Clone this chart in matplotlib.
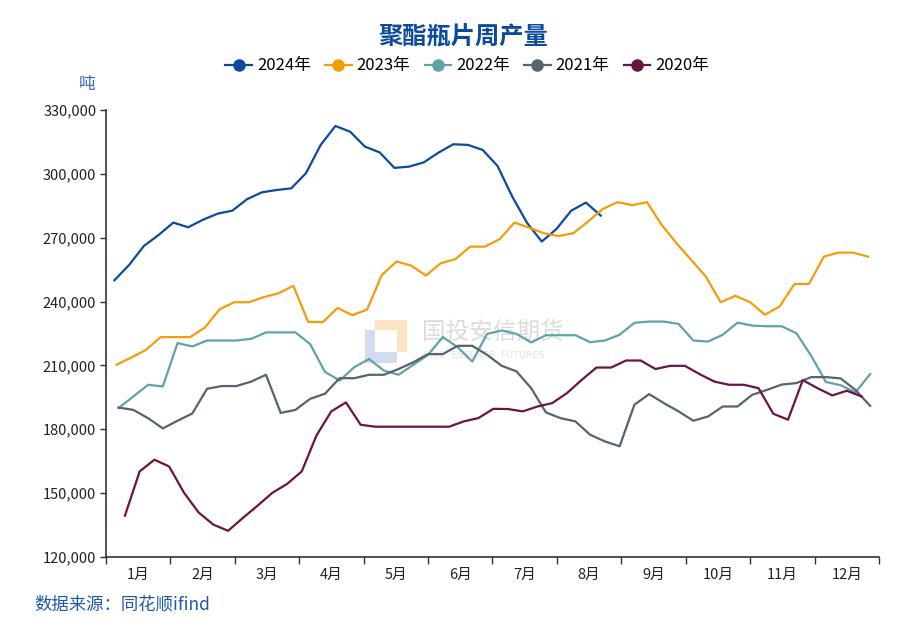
import numpy as np
import matplotlib
matplotlib.use("Agg")
import matplotlib.pyplot as plt
from matplotlib.patches import Rectangle
from matplotlib.lines import Line2D

plt.rcParams["font.family"] = ["Noto Sans CJK SC", "DejaVu Sans"]
plt.rcParams["axes.unicode_minus"] = False

# weekly output, thousand tonnes
y2024 = [250.0, 257.2, 266.1, 271.3, 277.1, 274.9, 278.4, 281.3, 282.7, 288.1, 291.3, 292.4, 293.2,
         300.3, 313.6, 322.5, 319.8, 312.8, 310.1, 302.8, 303.4, 305.4, 310.0, 313.9, 313.6, 311.2,
         303.7, 289.3, 277.0, 268.2, 274.1, 282.7, 286.5, 280.4]
y2023 = [210.3, 213.7, 217.3, 223.3, 223.3, 223.3, 227.8, 236.4, 239.7, 239.7, 242.1, 243.9, 247.4,
         230.5, 230.3, 237.0, 233.6, 236.2, 252.4, 258.8, 256.9, 252.2, 258.0, 259.9, 265.8, 265.8,
         269.3, 277.1, 274.7, 272.1, 270.8, 272.1, 277.6, 283.5, 286.7, 285.3, 286.7, 276.0,
         267.4, 259.6, 251.7, 239.7, 242.7, 239.7, 233.8, 237.7, 248.2, 248.3, 261.1, 263.0, 263.0, 261.1]
y2022 = [190.0, 195.4, 200.9, 200.1, 220.5, 218.9, 221.7, 221.7, 221.7, 222.5, 225.5, 225.5, 225.5,
         220.0, 207.0, 202.9, 209.2, 213.0, 207.6, 205.6, 210.3, 215.0, 223.3, 218.6, 211.8, 224.8,
         226.4, 224.8, 220.8, 224.2, 224.2, 224.2, 220.9, 221.7, 224.4, 230.0, 230.6, 230.6, 229.5,
         221.7, 221.2, 224.4, 230.1, 228.7, 228.4, 228.4, 225.1, 214.5, 202.2, 200.7, 197.3, 205.9]
y2021 = [190.2, 189.1, 185.2, 180.4, 184.0, 187.4, 199.0, 200.3, 200.3, 202.4, 205.6, 187.7, 189.1,
         194.3, 196.7, 204.0, 204.0, 205.6, 205.6, 208.3, 211.5, 215.3, 215.3, 219.2, 219.2, 215.0,
         209.8, 207.2, 199.3, 187.9, 185.2, 183.7, 177.4, 174.3, 172.0, 191.5, 196.5, 192.3, 188.4,
         184.0, 186.0, 190.7, 190.7, 196.2, 198.5, 201.0, 201.7, 204.5, 204.5, 203.9, 198.5, 191.0]
y2020 = [139.4, 160.2, 165.7, 162.5, 150.3, 140.9, 135.2, 132.3, 138.3, 144.1, 150.1, 154.3, 160.2,
         177.1, 188.4, 192.6, 182.1, 181.2, 181.2, 181.2, 181.2, 181.2, 181.2, 183.7, 185.3, 189.6,
         189.5, 188.4, 190.7, 192.3, 197.0, 203.2, 209.0, 209.0, 212.3, 212.3, 208.3, 209.8, 209.8,
         205.9, 202.4, 200.9, 200.9, 199.3, 187.3, 184.5, 203.1, 199.3, 195.9, 198.1, 195.4]

years = ["2024年", "2023年", "2022年", "2021年", "2020年"]
series = [y2024, y2023, y2022, y2021, y2020]
first_day = [4, 5, 6, 6, 9]          # day of year of the first weekly print
colors = ["#0B4A9E", "#F59C0A", "#5FA3A8", "#55646F", "#6B1443"]

months = [f"{m}月" for m in range(1, 13)]
yticks = [120000, 150000, 180000, 210000, 240000, 270000, 300000, 330000]

YEAR_SPAN = 367.2
month_w = YEAR_SPAN / 12

fig = plt.figure(figsize=(9.2, 6.34), dpi=100)
ax = fig.add_axes([0.1152, 0.1215, 0.8402, 0.705])
ax.patch.set_alpha(0)

for name, vals, d0, c in zip(years, series, first_day, colors):
    x = d0 + 7 * np.arange(len(vals))
    ax.plot(x, np.array(vals) * 1000, color=c, lw=1.6, label=name, zorder=3)

ax.set_xlim(0, YEAR_SPAN)
ax.set_ylim(120000, 330000)
ax.set_yticks(yticks)
ax.set_yticklabels([f"{v:,}" for v in yticks], fontsize=10.5, color="#222222")

ax.set_xticks([month_w * k for k in range(13)])
ax.set_xticklabels([])
ax.set_xticks([month_w * (k + 0.5) for k in range(12)], minor=True)
ax.set_xticklabels(months, minor=True, fontsize=10.5, color="#222222")
ax.tick_params(axis="x", which="major", length=5, width=1, color="#333333", direction="out")
ax.tick_params(axis="x", which="minor", length=0, pad=8)
ax.tick_params(axis="y", length=4, width=1, color="#333333", direction="out", pad=3)

for s in ["top", "right"]:
    ax.spines[s].set_visible(False)
for s in ["left", "bottom"]:
    ax.spines[s].set_color("#333333")
    ax.spines[s].set_linewidth(1.2)

# title, unit, source
fig.text(0.503, 0.943, "聚酯瓶片周产量", ha="center", va="center", fontsize=17.5,
         fontweight="bold", color="#0B4A9E")
fig.text(0.104, 0.866, "吨", ha="right", va="center", fontsize=12, color="#3A66CC")
fig.text(0.037, 0.046, "数据来源：同花顺ifind", ha="left", va="center", fontsize=12.5, color="#1F57B0")

handles = [Line2D([0], [0], color=c, lw=1.6, marker="o", markersize=8) for c in colors]
fig.legend(handles, years, loc="center", bbox_to_anchor=(0.508, 0.896), ncol=5, frameon=False,
           fontsize=12, handlelength=1.6, handletextpad=0.3, columnspacing=0.85)

# faint watermark, drawn beneath the lines
wm = fig.add_axes([0.3967, 0.4274, 0.0457, 0.0679], zorder=-1)
wm.axis("off")
wm.set_xlim(0, 1); wm.set_ylim(0, 1)
wm.add_patch(Rectangle((0.24, 0.77), 0.76, 0.23, color="#FBE3C4", lw=0))
wm.add_patch(Rectangle((0.76, 0.26), 0.24, 0.74, color="#FBE3C4", lw=0))
wm.add_patch(Rectangle((0.0, 0.0), 0.24, 0.77, color="#D3DCEE", lw=0))
wm.add_patch(Rectangle((0.0, 0.0), 0.76, 0.26, color="#D3DCEE", lw=0))
fig.text(0.4587, 0.4763, "国投安信期货", fontsize=17, color="#DCDCDC", va="center", zorder=-1)
fig.text(0.4598, 0.4385, "SDIC  ESSENCE  FUTURES", fontsize=6.8, color="#E2E2E2", va="center",
         family="DejaVu Sans", zorder=-1)

fig.savefig("out.png", dpi=100)
